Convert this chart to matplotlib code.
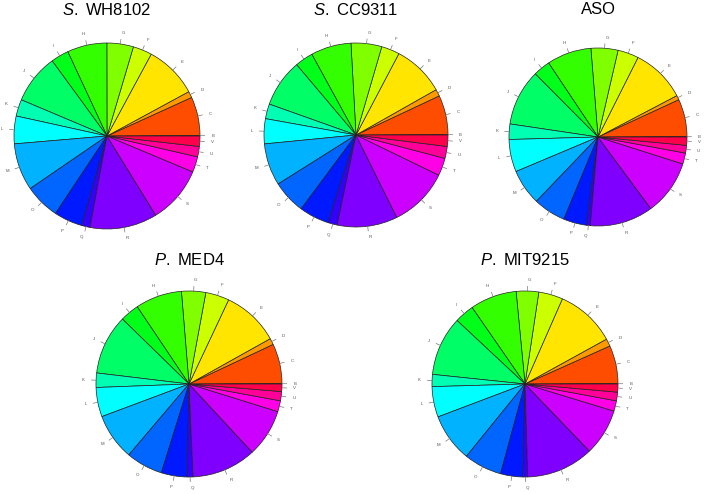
import colorsys
import numpy as np
import matplotlib
matplotlib.use("Agg")
import matplotlib.pyplot as plt

plt.rcParams["font.family"] = ["Liberation Sans", "DejaVu Sans"]
plt.rcParams["mathtext.fontset"] = "custom"
plt.rcParams["mathtext.rm"] = "Liberation Sans"
plt.rcParams["mathtext.it"] = "Liberation Sans:italic"

# COG functional categories (order as drawn, counter-clockwise from 3 o'clock)
categories = ["B", "C", "D", "E", "F", "G", "H", "I", "J", "K",
              "L", "M", "O", "P", "Q", "R", "S", "T", "U", "V"]

# percent of genes per category
wh8102 = [0.1, 6.7, 1.1, 9.2, 3.3, 4.6, 6.9, 3.1, 8.6, 2.9,
          4.8, 8.2, 6.1, 5.0, 1.4, 11.7, 9.9, 2.7, 1.8, 1.8]
cc9311 = [0.1, 6.9, 1.2, 9.1, 3.2, 5.4, 7.1, 3.2, 8.4, 2.6,
          4.4, 7.4, 5.9, 5.3, 1.6, 10.6, 10.5, 3.1, 2.1, 2.0]
aso = [0.1, 6.8, 0.8, 9.9, 3.8, 4.9, 8.1, 3.1, 10.2, 2.8,
       5.9, 6.5, 5.9, 4.2, 0.7, 11.5, 10.0, 2.0, 1.4, 1.5]
med4 = [0.1, 6.9, 1.1, 9.9, 4.1, 4.2, 8.1, 3.3, 10.4, 2.5,
        5.1, 8.1, 6.4, 4.5, 1.0, 11.2, 8.3, 1.9, 1.6, 1.3]
mit9215 = [0.1, 6.6, 1.3, 10.4, 4.2, 3.9, 8.1, 3.4, 10.3, 2.1,
           5.3, 8.4, 6.6, 3.9, 0.8, 11.7, 8.1, 1.8, 1.5, 1.4]

titles = [r"$\it{S.}$ WH8102", r"$\it{S.}$ CC9311", "ASO",
          r"$\it{P.}$ MED4", r"$\it{P.}$ MIT9215"]
series = [wh8102, cc9311, aso, med4, mit9215]

# rainbow palette, one hue per category (like R's rainbow(20))
n = len(categories)
colors = [colorsys.hsv_to_rgb(i / n, 1, 1) for i in range(n)]

W, H = 704, 494
fig = plt.figure(figsize=(W / 100, H / 100), dpi=100)

# (center x, center y, radius) in pixels, title y in pixels
layout = [(107, 136, 93, 10), (356, 135, 92, 10), (598, 137, 89, 10),
          (189, 384, 93, 260), (525, 384, 93, 260)]

L = 1.4
for (cx, cy, r, ty), vals, title in zip(layout, series, titles):
    side = 2 * L * r
    ax = fig.add_axes([(cx - side / 2) / W, 1 - (cy + side / 2) / H, side / W, side / H])
    wedges, _ = ax.pie(vals, colors=colors, startangle=0, counterclock=True,
                       radius=1, wedgeprops=dict(edgecolor="#222222", linewidth=0.5))
    total = sum(vals)
    start = 0.0
    for lab, v in zip(categories, vals):
        mid = np.deg2rad((start + v / 2) / total * 360)
        start += v
        x, y = np.cos(mid), np.sin(mid)
        ax.plot([x, 1.05 * x], [y, 1.05 * y], color="#777777", lw=0.5)
        ax.text(1.12 * x, 1.12 * y, lab, fontsize=3.2, color="#555555",
                ha="left" if x > 0 else "right", va="center")
    ax.set_xlim(-L, L)
    ax.set_ylim(-L, L)
    ax.set_aspect("equal")
    ax.axis("off")
    fig.text(cx / W, 1 - ty / H, title, fontsize=12, ha="center", va="center")

fig.savefig("out.png", dpi=100)
